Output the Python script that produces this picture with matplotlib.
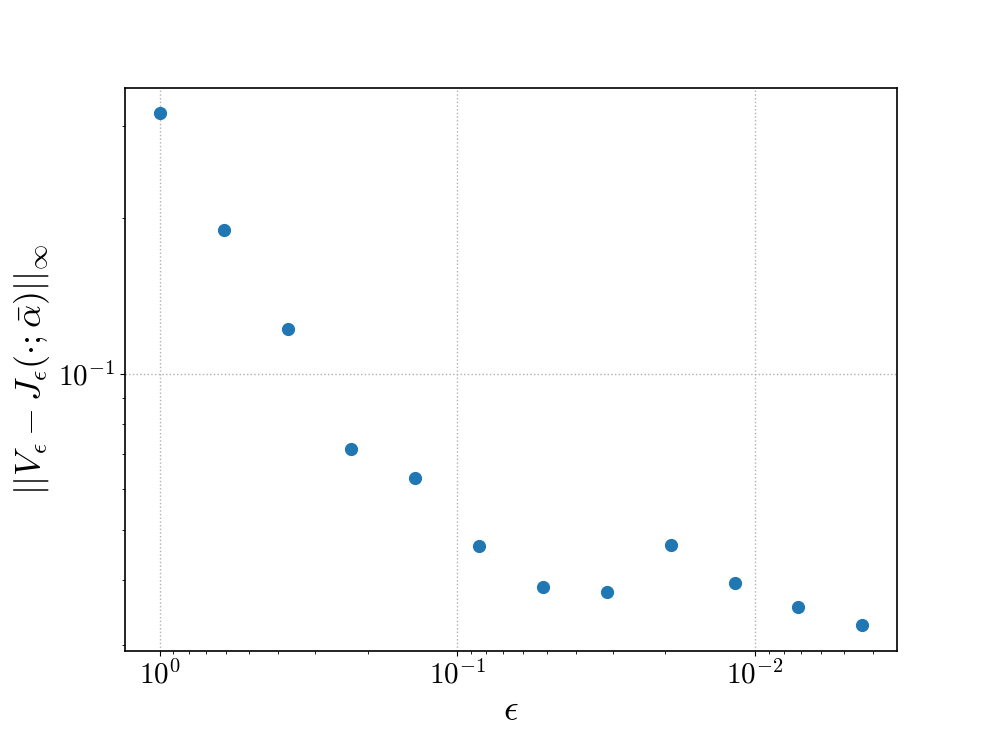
import matplotlib
matplotlib.use("Agg")
import matplotlib.pyplot as plt

plt.rcParams['mathtext.fontset'] = 'cm'
plt.rcParams['font.family'] = 'serif'
plt.rcParams['font.serif'] = ['cmr10', 'DejaVu Serif']
plt.rcParams['axes.formatter.use_mathtext'] = True

eps = [1.0, 0.61, 0.372, 0.227, 0.1385, 0.0845, 0.0515, 0.0314, 0.0192, 0.0117, 0.00714, 0.00436]
err = [0.3177, 0.1891, 0.1219, 0.0716, 0.0630, 0.04656, 0.03882, 0.03797, 0.04677, 0.03952, 0.03552, 0.03280]

fig, ax = plt.subplots(figsize=(9.97, 7.31), dpi=100)
ax.scatter(eps, err, s=72, color='#1f77b4', zorder=3)
ax.set_xscale('log')
ax.set_yscale('log')
ax.invert_xaxis()
ax.grid(True, which='major', linestyle=':', color='#b0b0b0', linewidth=1.0)
ax.tick_params(labelsize=21)
ax.set_xlabel(r'$\epsilon$', fontsize=26)
ax.set_ylabel(r'$||V_\epsilon - J_\epsilon(\cdot;\bar{\alpha})||_\infty$', fontsize=26)
for s in ax.spines.values():
    s.set_linewidth(1.2)
fig.savefig('out.png', dpi=100)
